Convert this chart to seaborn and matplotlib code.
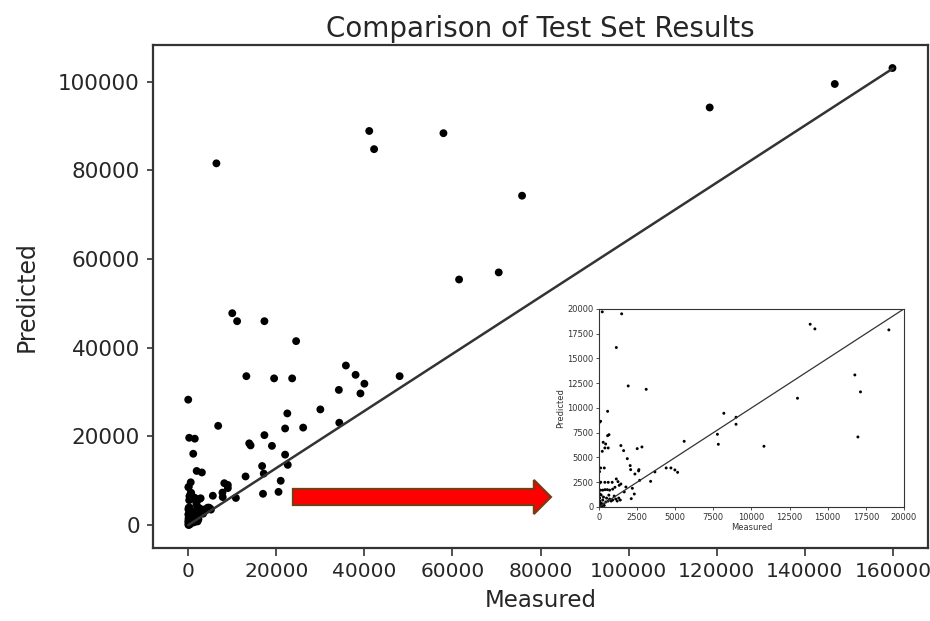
import matplotlib
matplotlib.use("Agg")
import matplotlib.pyplot as plt
import matplotlib.patches as mpatches
import seaborn as sns
import pandas as pd

# ---- data (measured, predicted) ----
measured = [
    # large values (main plot only)
    159900, 146800, 118400, 75800, 70500, 61500, 57950, 41100, 42200, 6400,
    10000, 11100, 17300, 24500, 0, 13200, 19500, 23600, 35800, 38000,
    40000, 34200, 48000, 39100, 30000, 22500, 22000, 26100, 34300, 6800,
    17300, 22000, 22600, 21000, 20500,
    # values within 0-20000 (visible in inset)
    220, 1490, 1140, 1920, 3100,
    570, 40, 110, 570, 660, 280, 440, 390, 610, 220,
    1440, 1620, 1860, 2510, 2820, 2050, 2080, 2360, 2600, 2620,
    40, 110, 350, 5590, 3670, 4410, 4720, 4980, 5160, 3390, 2670,
    390, 610, 870, 1140, 1250, 1440, 1770, 2190, 2320, 2120, 1660, 1050, 1330,
    100, 250, 400, 550, 700, 900, 150, 300, 500, 700, 900, 1100, 1300,
    50, 150, 300, 450, 600, 800, 100, 200, 350, 50, 80, 1000, 1200, 1400,
    30, 120, 50, 250, 650,
    8190, 8990, 8990, 7770, 7830, 10820, 16980, 13020, 13850, 14160,
    16780, 17150, 19010,
]
predicted = [
    103100, 99500, 94200, 74300, 57000, 55400, 88400, 88900, 84800, 81600,
    47800, 46000, 46000, 41500, 28300, 33600, 33100, 33100, 36000, 33900,
    31900, 30500, 33600, 29700, 26100, 25200, 21800, 22000, 23100, 22400,
    20300, 15900, 13600, 10000, 7500,
    19700, 19500, 16100, 12220, 11880,
    9660, 8550, 8650, 7200, 7300, 6530, 6360, 5960, 5960, 5620,
    6200, 5690, 4880, 5890, 6060, 4180, 3770, 3330, 3640, 3770,
    3570, 3940, 3940, 6630, 3540, 3940, 3940, 3740, 3500, 2590, 2690,
    2490, 2490, 2490, 2830, 2560, 2320, 2020, 1890, 1310, 840, 1520, 1990, 2190,
    1700, 1700, 1750, 1750, 1700, 1800, 1200, 1000, 900, 800, 700, 800, 900,
    600, 400, 300, 500, 600, 600, 200, 100, 150, 900, 1300, 1100, 600, 700,
    2400, 2500, 50, 700, 1200,
    9460, 9060, 8350, 7340, 6330, 6130, 7070, 10980, 18450, 17980,
    13330, 11620, 17880,
]

main_line_x = [0, 160000]
main_line_y = [0, 103000]
inset_line = [0, 20000]

main_xticks = [0, 20000, 40000, 60000, 80000, 100000, 120000, 140000, 160000]
main_yticks = [0, 20000, 40000, 60000, 80000, 100000]
inset_ticks = [0, 2500, 5000, 7500, 10000, 12500, 15000, 17500, 20000]

df = pd.DataFrame({"Measured": measured, "Predicted": predicted})

sns.set_style("ticks")
plt.rcParams["font.family"] = ["DejaVu Sans"]

fig = plt.figure(figsize=(9.3, 6.21), dpi=100)
ax = fig.add_axes([0.1645, 0.1176, 0.8335, 0.81])

sns.scatterplot(data=df, x="Measured", y="Predicted", ax=ax, color="black",
                s=32, edgecolor="none", linewidth=0)
sns.lineplot(x=main_line_x, y=main_line_y, ax=ax, color="0.2", linewidth=1.8)

ax.set_xlim(-8000, 168000)
ax.set_ylim(-5150, 108300)
ax.set_xticks(main_xticks)
ax.set_yticks(main_yticks)
ax.set_xticklabels([str(t) for t in main_xticks], fontsize=14.5, color="0.15")
ax.set_yticklabels([str(t) for t in main_yticks], fontsize=15.5, color="0.15")
ax.set_xlabel("Measured", fontsize=16.5, color="0.15", labelpad=6)
ax.set_ylabel("Predicted", fontsize=17, color="0.15", labelpad=14)
ax.set_title("Comparison of Test Set Results", fontsize=20, color="0.15", pad=6)
ax.tick_params(axis="y", length=4.5, width=1.2, color="0.2", pad=5)
ax.tick_params(axis="x", length=6, width=1.2, color="0.2", pad=4)
for sp in ax.spines.values():
    sp.set_visible(True)
    sp.set_color("0.2")
    sp.set_linewidth(1.6)

# inset
axi = fig.add_axes([0.644, 0.1836, 0.328, 0.319])
sns.scatterplot(data=df, x="Measured", y="Predicted", ax=axi, color="black",
                s=4.5, edgecolor="none", linewidth=0)
sns.lineplot(x=inset_line, y=inset_line, ax=axi, color="0.2", linewidth=0.9)
axi.set_xlim(0, 20000)
axi.set_ylim(0, 20000)
axi.set_xticks(inset_ticks)
axi.set_yticks(inset_ticks)
axi.set_xticklabels([str(t) for t in inset_ticks], fontsize=6, color="0.2")
axi.set_yticklabels([str(t) for t in inset_ticks], fontsize=6, color="0.2")
axi.set_xlabel("Measured", fontsize=6, color="0.2", labelpad=1)
axi.set_ylabel("Predicted", fontsize=6, color="0.2", labelpad=1)
axi.tick_params(length=2.5, width=0.6, pad=1.5, color="0.2")
for sp in axi.spines.values():
    sp.set_visible(True)
    sp.set_color("0.2")
    sp.set_linewidth(0.8)

# red arrow
arrow = mpatches.FancyArrow(0.315, 0.1997, 0.2774, 0.0, width=0.0258,
                            head_width=0.0548, head_length=0.0183,
                            length_includes_head=True,
                            facecolor="#ff0000", edgecolor="#7a3a12",
                            linewidth=1.6, transform=fig.transFigure)
fig.patches.append(arrow)

fig.savefig("out.png", dpi=100)
